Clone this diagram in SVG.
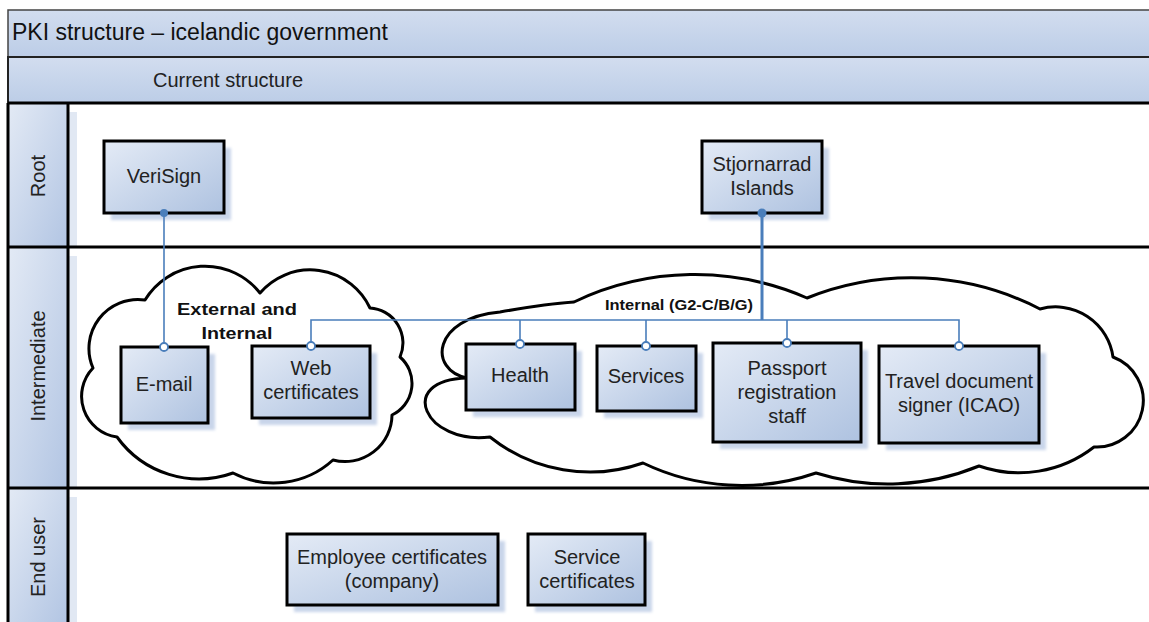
<svg xmlns="http://www.w3.org/2000/svg" width="1149" height="622" viewBox="0 0 1149 622">
  <defs>
    <linearGradient id="boxFill" x1="0" y1="0" x2="1" y2="1">
      <stop offset="0" stop-color="#e4ebf6"/>
      <stop offset="1" stop-color="#aec2e0"/>
    </linearGradient>
    <linearGradient id="barFill" x1="0" y1="0" x2="0" y2="1">
      <stop offset="0" stop-color="#d2ddef"/>
      <stop offset="1" stop-color="#bccde7"/>
    </linearGradient>
    <linearGradient id="laneFill" x1="0" y1="0" x2="1" y2="1">
      <stop offset="0" stop-color="#e3eaf5"/>
      <stop offset="1" stop-color="#b2c5e3"/>
    </linearGradient>
    <filter id="soft" x="-10%" y="-10%" width="120%" height="120%">
      <feGaussianBlur stdDeviation="1.5"/>
    </filter>
  </defs>
  <style>
    .box{fill:url(#boxFill);stroke:#000;stroke-width:3}
    .shadow{fill:#c9d5ea;filter:url(#soft)}
    .lbl{font-family:"Liberation Sans",Arial,sans-serif;font-size:20px;fill:#222;text-anchor:middle}
    .title{font-family:"Liberation Sans",Arial,sans-serif;font-size:23px;fill:#111}
    .grp{font-family:"Liberation Sans",Arial,sans-serif;font-weight:bold;fill:#111;text-anchor:middle}
    .cloud{fill:#fff;stroke:#000;stroke-width:3;stroke-linejoin:round}
    .wire{fill:none;stroke:#4a7ebb;stroke-width:1.6}
    .trunk{fill:none;stroke:#4a7ebb;stroke-width:3}
    .src{fill:#4a7ebb}
    .dst{fill:#fff;stroke:#4a7ebb;stroke-width:1.8}
    .rule{stroke:#000;stroke-width:3}
  </style>

  <rect width="1149" height="622" fill="#fff"/>

  <!-- swimlane frame -->
  <g id="frame">
    <rect x="8" y="10" width="1150" height="47" fill="url(#barFill)" stroke="#444" stroke-width="1.5"/>
    <text class="title" x="12" y="40">PKI structure – icelandic government</text>
    <rect x="8" y="57" width="1150" height="46" fill="url(#barFill)" stroke="#222" stroke-width="2"/>
    <text class="lbl" x="228" y="87">Current structure</text>

    <!-- lane header shadows -->
    <rect x="69" y="112" width="8" height="135" fill="#e1e8f3"/>
    <rect x="69" y="256" width="8" height="232" fill="#e1e8f3"/>
    <rect x="69" y="497" width="8" height="125" fill="#e1e8f3"/>

    <rect x="8" y="103" width="60" height="144" fill="url(#laneFill)"/>
    <rect x="8" y="247" width="60" height="241" fill="url(#laneFill)"/>
    <rect x="8" y="488" width="60" height="134" fill="url(#laneFill)"/>

    <line class="rule" x1="8" y1="103" x2="1149" y2="103"/>
    <line class="rule" x1="8" y1="247" x2="1149" y2="247"/>
    <line class="rule" x1="8" y1="488" x2="1149" y2="488"/>
    <line class="rule" x1="8" y1="103" x2="8" y2="622"/>
    <line class="rule" x1="68" y1="103" x2="68" y2="622"/>

    <text class="lbl" transform="translate(45,176) rotate(-90)">Root</text>
    <text class="lbl" transform="translate(45,366) rotate(-90)">Intermediate</text>
    <text class="lbl" transform="translate(45,557) rotate(-90)">End user</text>
  </g>

  <!-- certificate groupings -->
  <g id="cloud-external">
    <path class="cloud" d="M93,368 A49,49 0 0 1 145,300 A70,70 0 0 1 260,293 A66,66 0 0 1 370,308 A35,35 0 0 1 400,357 A35,35 0 0 1 392,415 A47,47 0 0 1 333,460 A88,88 0 0 1 233,473 A101,101 0 0 1 117,437 A41,41 0 0 1 93,368 Z"/>
    <text class="grp" font-size="17" x="237" y="315" textLength="120" lengthAdjust="spacingAndGlyphs">External and</text>
    <text class="grp" font-size="17" x="237" y="339" textLength="71" lengthAdjust="spacingAndGlyphs">Internal</text>
  </g>
  <g id="cloud-internal">
    <path class="cloud" d="M574,302 A280,280 0 0 1 807,298 A280,280 0 0 1 1040,309 A58,58 0 0 1 1113,357 A46.5,46.5 0 0 1 1094,447 A122,122 0 0 1 979,466 A240,240 0 0 1 816,473 A228,228 0 0 1 643,463 A160,160 0 0 1 490,437 C425,445 395,380 467,378 C428,370 432,318 500,312 Q545,304 574,302 Z"/>
    <text class="grp" font-size="15" x="679" y="310" textLength="148" lengthAdjust="spacingAndGlyphs">Internal (G2-C/B/G)</text>
  </g>

  <!-- nodes -->
  <g id="verisign">
    <rect class="shadow" x="111" y="148" width="120" height="72"/>
    <rect class="box" x="104" y="141" width="120" height="72"/>
    <text class="lbl" x="164" y="183">VeriSign</text>
  </g>
  <g id="stjornarrad">
    <rect class="shadow" x="709" y="148" width="120" height="72"/>
    <rect class="box" x="702" y="141" width="120" height="72"/>
    <text class="lbl" x="762" y="171">Stjornarrad</text>
    <text class="lbl" x="762" y="195">Islands</text>
  </g>
  <g id="email">
    <rect class="shadow" x="128" y="354" width="87" height="76"/>
    <rect class="box" x="121" y="347" width="87" height="76"/>
    <text class="lbl" x="164" y="391">E-mail</text>
  </g>
  <g id="web-certificates">
    <rect class="shadow" x="259" y="353" width="118" height="72"/>
    <rect class="box" x="252" y="346" width="118" height="72"/>
    <text class="lbl" x="311" y="375">Web</text>
    <text class="lbl" x="311" y="399">certificates</text>
  </g>
  <g id="health">
    <rect class="shadow" x="473" y="351" width="109" height="66"/>
    <rect class="box" x="466" y="344" width="109" height="66"/>
    <text class="lbl" x="520" y="382">Health</text>
  </g>
  <g id="services">
    <rect class="shadow" x="604" y="353" width="99" height="65"/>
    <rect class="box" x="597" y="346" width="99" height="65"/>
    <text class="lbl" x="646" y="383">Services</text>
  </g>
  <g id="passport">
    <rect class="shadow" x="720" y="350" width="148" height="99"/>
    <rect class="box" x="713" y="343" width="148" height="99"/>
    <text class="lbl" x="787" y="375">Passport</text>
    <text class="lbl" x="787" y="399">registration</text>
    <text class="lbl" x="787" y="423">staff</text>
  </g>
  <g id="travel-document">
    <rect class="shadow" x="886" y="353" width="160" height="97"/>
    <rect class="box" x="879" y="346" width="160" height="97"/>
    <text class="lbl" x="959" y="388">Travel document</text>
    <text class="lbl" x="959" y="412">signer (ICAO)</text>
  </g>
  <g id="employee-certificates">
    <rect class="shadow" x="294" y="541" width="211" height="71"/>
    <rect class="box" x="287" y="534" width="211" height="71"/>
    <text class="lbl" x="392" y="564">Employee certificates</text>
    <text class="lbl" x="392" y="588">(company)</text>
  </g>
  <g id="service-certificates">
    <rect class="shadow" x="535" y="541" width="117" height="71"/>
    <rect class="box" x="528" y="534" width="117" height="71"/>
    <text class="lbl" x="587" y="564">Service</text>
    <text class="lbl" x="587" y="588">certificates</text>
  </g>

  <!-- connectors -->
  <g id="connectors">
    <path class="wire" d="M164,213 V347"/>
    <path class="trunk" d="M762,213 V320"/>
    <path class="wire" d="M311,346 V320 H959 V346"/>
    <path class="wire" d="M520,320 V344 M646,320 V346 M787,320 V343"/>
    <circle class="src" cx="164" cy="213" r="4"/>
    <circle class="src" cx="762" cy="213" r="4.5"/>
    <circle class="dst" cx="164" cy="347" r="4"/>
    <circle class="dst" cx="311" cy="346" r="4"/>
    <circle class="dst" cx="520" cy="344" r="4"/>
    <circle class="dst" cx="646" cy="346" r="4"/>
    <circle class="dst" cx="787" cy="343" r="4"/>
    <circle class="dst" cx="959" cy="346" r="4"/>
  </g>
</svg>
